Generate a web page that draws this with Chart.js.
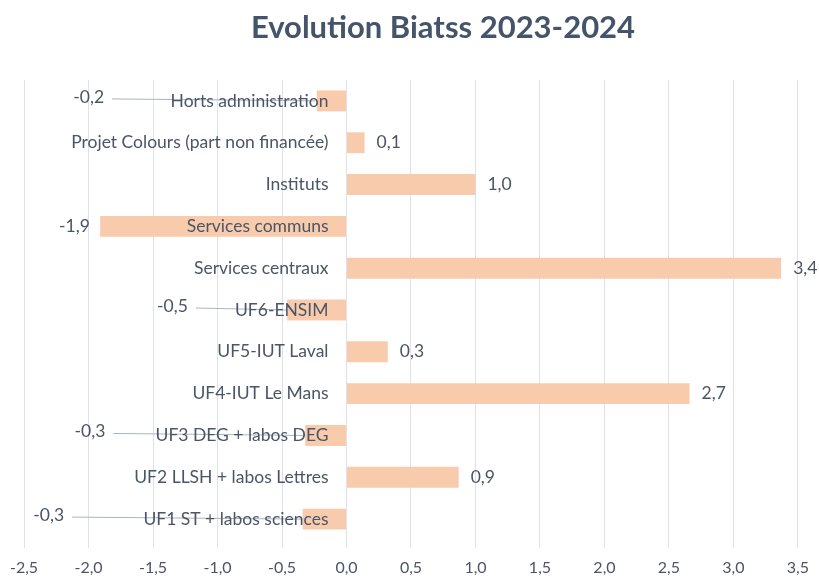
<!doctype html>
<html lang="fr">
  <head>
    <meta charset="utf-8">
    <title>Evolution Biatss 2023-2024</title>
    <script src="https://cdn.jsdelivr.net/npm/chart.js"></script>
    <style>
      body { margin: 0; background: #fff; }
      #wrap { width: 819px; height: 580px; position: relative; }
    </style>
  </head>
  <body>
    <div id="wrap"><canvas id="biatssChart"></canvas></div>
    <script>
      const chartTitle = 'Evolution Biatss 2023-2024';
      const categories = [
        'Horts administration',
        'Projet Colours (part non financée)',
        'Instituts',
        'Services communs',
        'Services centraux',
        'UF6-ENSIM',
        'UF5-IUT Laval',
        'UF4-IUT Le Mans',
        'UF3 DEG + labos DEG',
        'UF2 LLSH + labos Lettres',
        'UF1 ST + labos sciences'
      ];
      const evolution = [-0.23, 0.14, 1.0, -1.91, 3.37, -0.46, 0.32, 2.66, -0.32, 0.87, -0.34];
      const xTicks = [-2.5, -2.0, -1.5, -1.0, -0.5, 0.0, 0.5, 1.0, 1.5, 2.0, 2.5, 3.0, 3.5];

      const textColor = '#4A5566';
      const fontFamily = 'Lato, "Open Sans", sans-serif';

      function fr(v) {
        return v.toFixed(1).replace('.', ',');
      }

      // where the negative labels sit (axis units), Excel-style with leader lines
      const leaderLabelAt = { 0: -1.88, 3: -1.99, 5: -1.23, 8: -1.87, 10: -2.19 };

      const labelsPlugin = {
        id: 'labelsPlugin',
        beforeDraw(chart) {
          const ctx = chart.ctx;
          ctx.save();
          ctx.fillStyle = '#44546A';
          ctx.font = 'bold 31px ' + fontFamily;
          ctx.textAlign = 'center';
          ctx.textBaseline = 'middle';
          ctx.fillText(chartTitle, 443, 28);
          ctx.restore();
        },
        afterDatasetsDraw(chart) {
          const ctx = chart.ctx;
          const x = chart.scales.x;
          const y = chart.scales.y;
          const zero = x.getPixelForValue(0);
          ctx.save();
          ctx.font = '17.5px ' + fontFamily;
          ctx.textBaseline = 'middle';

          // leader lines
          ctx.strokeStyle = '#A9B3C2';
          ctx.lineWidth = 1;
          evolution.forEach((v, i) => {
            if (v < 0 && i !== 3) {
              const cy = y.getPixelForValue(i);
              const lx = x.getPixelForValue(leaderLabelAt[i]) + 8;
              ctx.beginPath();
              ctx.moveTo(lx, cy - 2);
              ctx.lineTo(x.getPixelForValue(v), cy);
              ctx.stroke();
            }
          });

          ctx.fillStyle = textColor;
          // category labels next to the zero line
          ctx.textAlign = 'right';
          categories.forEach((c, i) => {
            ctx.fillText(c, zero - 18, y.getPixelForValue(i));
          });

          // value labels
          evolution.forEach((v, i) => {
            const cy = y.getPixelForValue(i);
            if (v >= 0) {
              ctx.textAlign = 'left';
              ctx.fillText(fr(v), x.getPixelForValue(v) + 12, cy);
            } else {
              ctx.textAlign = 'right';
              ctx.fillText(fr(v), x.getPixelForValue(leaderLabelAt[i]), i === 3 ? cy : cy - 4);
            }
          });
          ctx.restore();
        }
      };

      window.onload = function() {
        const ctx = document.getElementById('biatssChart').getContext('2d');
        new Chart(ctx, {
          type: 'bar',
          data: {
            labels: categories,
            datasets: [{
              label: 'Evolution',
              data: evolution,
              backgroundColor: '#F8CBAD',
              borderWidth: 0,
              barPercentage: 0.5,
              categoryPercentage: 1.0
            }]
          },
          options: {
            indexAxis: 'y',
            responsive: true,
            maintainAspectRatio: false,
            animation: false,
            layout: { padding: { top: 80, bottom: 0, left: 22, right: 4 } },
            plugins: {
              legend: { display: false },
              title: { display: false },
              tooltip: { enabled: false }
            },
            scales: {
              x: {
                min: -2.5,
                max: 3.5,
                afterBuildTicks: axis => { axis.ticks = xTicks.map(v => ({ value: v })); },
                afterFit: axis => { axis.height = 40; },
                grid: { color: '#DDE2EA', lineWidth: 1, tickLength: 8, drawTicks: true },
                border: { display: false },
                ticks: {
                  color: textColor,
                  padding: 10,
                  font: { family: fontFamily, size: 16 },
                  callback: v => fr(v)
                }
              },
              y: {
                position: { x: 0 },
                grid: { display: false },
                border: { display: false },
                ticks: { display: false }
              }
            }
          },
          plugins: [labelsPlugin]
        });
      };
    </script>
  </body>
</html>
